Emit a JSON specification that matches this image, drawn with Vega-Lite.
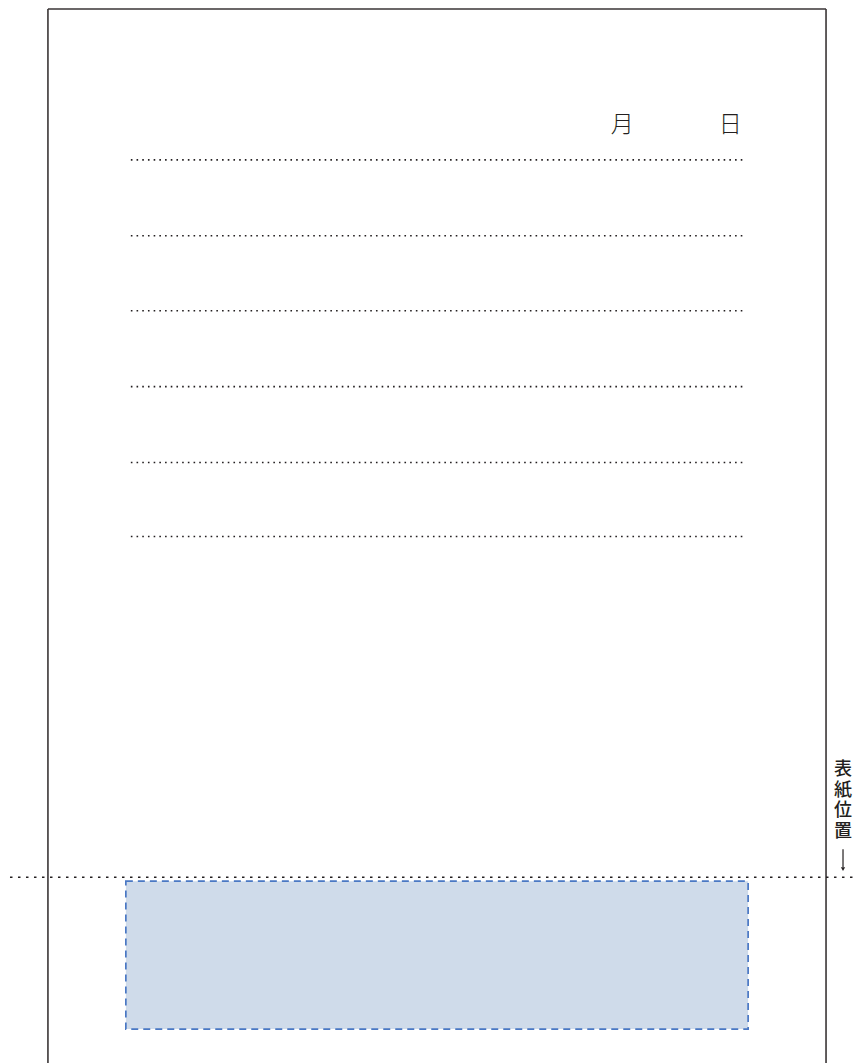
{
  "$schema": "https://vega.github.io/schema/vega-lite/v6.json",
  "width": 855,
  "height": 1064,
  "autosize": {"type": "fit", "contains": "padding"},
  "padding": 0,
  "background": "white",
  "config": {"view": {"stroke": null}},
  "datasets": {
    "frame": [
      {"side": "left", "x1": 48, "x2": 48, "y1": 9, "y2": 1064},
      {"side": "top", "x1": 48, "x2": 827, "y1": 9, "y2": 9},
      {"side": "right", "x1": 827, "x2": 827, "y1": 9, "y2": 1064}
    ],
    "lines": [
      {"line": 1, "x1": 131, "x2": 744, "y": 160},
      {"line": 2, "x1": 131, "x2": 744, "y": 236},
      {"line": 3, "x1": 131, "x2": 744, "y": 311},
      {"line": 4, "x1": 131, "x2": 744, "y": 387},
      {"line": 5, "x1": 131, "x2": 744, "y": 463},
      {"line": 6, "x1": 131, "x2": 744, "y": 537}
    ],
    "cut": [{"x1": 10, "x2": 855, "y": 878}],
    "box": [{"x1": 126, "x2": 749, "y1": 882, "y2": 1030}],
    "date": [
      {"label": "月", "x": 623, "y": 125},
      {"label": "日", "x": 731, "y": 125}
    ],
    "side": [
      {"label": "表\n紙\n位\n置", "x": 844, "y": 762}
    ],
    "arrow": [{"x": 844, "y1": 850, "y2": 868, "tip": 870}]
  },
  "layer": [
    {
      "data": {"name": "box"},
      "mark": {"type": "rect", "fill": "#cfdbea", "stroke": "#4a78c4", "strokeWidth": 1.7, "strokeDash": [7, 5]},
      "encoding": {
        "x": {"field": "x1", "type": "quantitative", "scale": {"domain": [0, 855], "nice": false, "zero": false}, "axis": null},
        "x2": {"field": "x2"},
        "y": {"field": "y1", "type": "quantitative", "scale": {"domain": [0, 1064], "nice": false, "zero": false, "reverse": true}, "axis": null},
        "y2": {"field": "y2"}
      }
    },
    {
      "data": {"name": "frame"},
      "mark": {"type": "rule", "color": "#3a3536", "strokeWidth": 1.6},
      "encoding": {
        "x": {"field": "x1", "type": "quantitative"},
        "x2": {"field": "x2"},
        "y": {"field": "y1", "type": "quantitative"},
        "y2": {"field": "y2"}
      }
    },
    {
      "data": {"name": "lines"},
      "mark": {"type": "rule", "color": "#231f20", "strokeWidth": 1.6, "strokeDash": [1.6, 4.1]},
      "encoding": {
        "x": {"field": "x1", "type": "quantitative"},
        "x2": {"field": "x2"},
        "y": {"field": "y", "type": "quantitative"}
      }
    },
    {
      "data": {"name": "cut"},
      "mark": {"type": "rule", "color": "#231f20", "strokeWidth": 1.5, "strokeDash": [2.5, 5.5]},
      "encoding": {
        "x": {"field": "x1", "type": "quantitative"},
        "x2": {"field": "x2"},
        "y": {"field": "y", "type": "quantitative"}
      }
    },
    {
      "data": {"name": "date"},
      "mark": {"type": "text", "font": "Noto Sans CJK JP", "fontSize": 23, "fontWeight": 300, "color": "#231f20", "align": "center", "baseline": "middle"},
      "encoding": {
        "x": {"field": "x", "type": "quantitative"},
        "y": {"field": "y", "type": "quantitative"},
        "text": {"field": "label"}
      }
    },
    {
      "data": {"name": "side"},
      "mark": {"type": "text", "font": "Noto Sans CJK JP", "fontSize": 18, "fontWeight": 500, "color": "#231f20", "align": "center", "baseline": "top", "lineBreak": "\n", "lineHeight": 20.5},
      "encoding": {
        "x": {"field": "x", "type": "quantitative"},
        "y": {"field": "y", "type": "quantitative"},
        "text": {"field": "label"}
      }
    },
    {
      "data": {"name": "arrow"},
      "mark": {"type": "rule", "color": "#231f20", "strokeWidth": 1.2},
      "encoding": {
        "x": {"field": "x", "type": "quantitative"},
        "y": {"field": "y1", "type": "quantitative"},
        "y2": {"field": "y2"}
      }
    },
    {
      "data": {"name": "arrow"},
      "mark": {"type": "point", "shape": "triangle-down", "filled": true, "color": "#231f20", "size": 18, "opacity": 1},
      "encoding": {
        "x": {"field": "x", "type": "quantitative"},
        "y": {"field": "tip", "type": "quantitative"}
      }
    }
  ]
}
